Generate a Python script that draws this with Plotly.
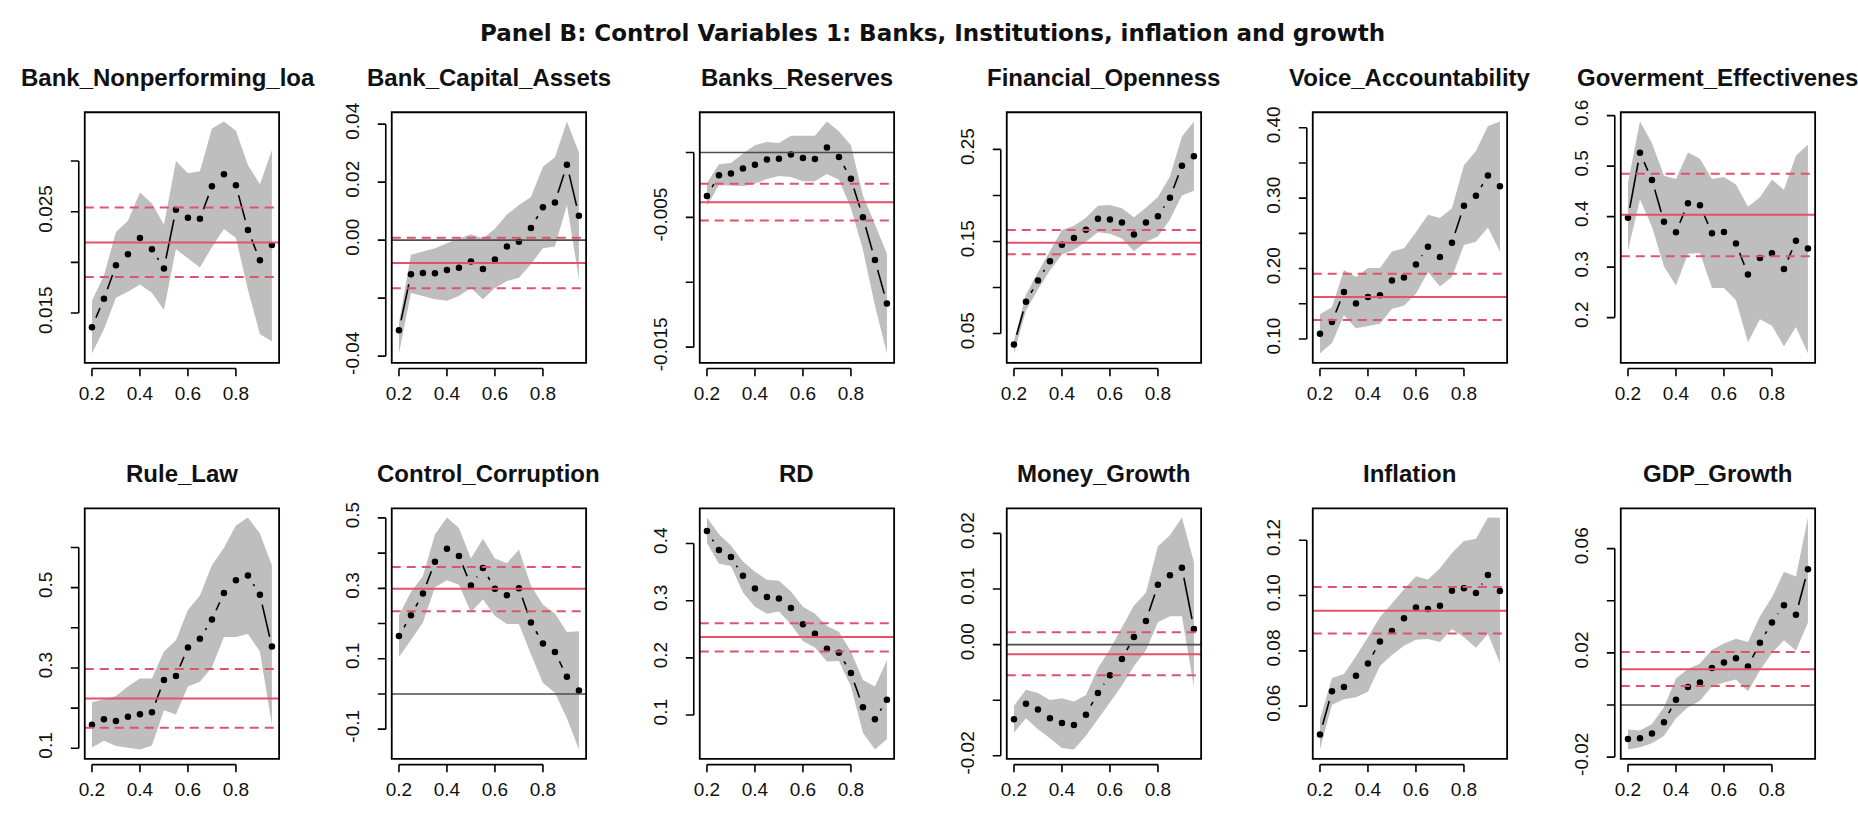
import math
import plotly.graph_objects as go

# Quantile levels shared by every panel
taus = [0.20, 0.25, 0.30, 0.35, 0.40, 0.45, 0.50, 0.55,
        0.60, 0.65, 0.70, 0.75, 0.80, 0.85, 0.90, 0.95]
x_ticks = [0.2, 0.4, 0.6, 0.8]
x_tick_text = ["0.2", "0.4", "0.6", "0.8"]

main_title = "Panel B: Control Variables 1: Banks, Institutions, inflation and growth"

# ---- quantile coefficients, confidence bands and OLS (estimate, lower, upper) ----
npl_coef = [0.0136, 0.0164, 0.0197, 0.0208, 0.0224, 0.0213, 0.0194, 0.0252,
            0.0244, 0.0243, 0.0275, 0.0287, 0.0276, 0.0232, 0.0202, 0.0217]
npl_lo = [0.0110, 0.0134, 0.0165, 0.0171, 0.0178, 0.0170, 0.0153, 0.0213,
          0.0204, 0.0195, 0.0215, 0.0233, 0.0224, 0.0173, 0.0129, 0.0122]
npl_hi = [0.0162, 0.0187, 0.0230, 0.0241, 0.0269, 0.0258, 0.0237, 0.0300,
          0.0288, 0.0290, 0.0332, 0.0339, 0.0330, 0.0296, 0.0277, 0.0311]
npl_ols = [0.02195, 0.01855, 0.02541]
npl_yticks = [0.015, 0.020, 0.025, 0.030]
npl_ylabels = ["0.015", "", "0.025", ""]

cap_coef = [-0.0311, -0.0118, -0.0113, -0.0114, -0.0103, -0.0095, -0.0074, -0.0100,
            -0.0067, -0.0022, -0.0006, 0.0042, 0.0113, 0.0130, 0.0260, 0.0084]
cap_lo = [-0.0391, -0.0182, -0.0193, -0.0204, -0.0209, -0.0193, -0.0165, -0.0204,
          -0.0165, -0.0141, -0.0130, -0.0083, -0.0028, -0.0022, 0.0121, -0.0134]
cap_hi = [-0.0286, -0.0050, -0.0039, -0.0028, -0.0011, 0.0006, 0.0020, 0.0006,
          0.0039, 0.0088, 0.0121, 0.0149, 0.0253, 0.0286, 0.0409, 0.0303]
cap_ols = [-0.0079, -0.0166, 0.0008]
cap_yticks = [-0.04, -0.02, 0.0, 0.02, 0.04]
cap_ylabels = ["-0.04", "", "0.00", "0.02", "0.04"]

res_coef = [-0.00335, -0.00175, -0.00162, -0.00123, -0.00094, -0.00054, -0.00047, -0.00015,
            -0.00042, -0.00049, 0.00039, -0.00034, -0.00202, -0.00499, -0.00829, -0.01163]
res_lo = [-0.00411, -0.00253, -0.00253, -0.00258, -0.00241, -0.00204, -0.00180, -0.00189,
          -0.00221, -0.00221, -0.00165, -0.00209, -0.00430, -0.00750, -0.01181, -0.01549]
res_hi = [-0.00234, -0.00091, -0.00081, -0.00007, 0.00057, 0.00081, 0.00074, 0.00130,
          0.00130, 0.00130, 0.00239, 0.00165, 0.00057, -0.00332, -0.00553, -0.00780]
res_ols = [-0.00384, -0.00524, -0.00241]
res_yticks = [-0.015, -0.010, -0.005, 0.0]
res_ylabels = ["-0.015", "", "-0.005", ""]

fin_coef = [0.0380, 0.0845, 0.1077, 0.1285, 0.1465, 0.1538, 0.1628, 0.1746,
            0.1739, 0.1705, 0.1576, 0.1705, 0.1774, 0.1975, 0.2322, 0.2425]
fin_lo = [0.0283, 0.0751, 0.0977, 0.1185, 0.1358, 0.1410, 0.1497, 0.1601,
          0.1583, 0.1531, 0.1393, 0.1497, 0.1555, 0.1739, 0.1999, 0.2051]
fin_hi = [0.0422, 0.0925, 0.1167, 0.1393, 0.1625, 0.1670, 0.1757, 0.1888,
          0.1895, 0.1860, 0.1763, 0.1867, 0.1982, 0.2207, 0.2640, 0.2803]
fin_ols = [0.1486, 0.1361, 0.1625]
fin_yticks = [0.05, 0.10, 0.15, 0.20, 0.25]
fin_ylabels = ["0.05", "", "0.15", "", "0.25"]

voice_coef = [0.1074, 0.1242, 0.1668, 0.1505, 0.1595, 0.1622, 0.1831, 0.1872,
              0.2057, 0.2311, 0.2162, 0.2366, 0.2891, 0.3032, 0.3322, 0.3168]
voice_lo = [0.0793, 0.0943, 0.1337, 0.1151, 0.1187, 0.1215, 0.1428, 0.1473,
            0.1640, 0.1949, 0.1745, 0.1881, 0.2334, 0.2379, 0.2583, 0.2243]
voice_hi = [0.1350, 0.1450, 0.1980, 0.1881, 0.2008, 0.2008, 0.2243, 0.2289,
            0.2515, 0.2764, 0.2719, 0.2855, 0.3467, 0.3671, 0.4024, 0.4088]
voice_ols = [0.1595, 0.1269, 0.1926]
voice_yticks = [0.10, 0.15, 0.20, 0.25, 0.30, 0.35, 0.40]
voice_ylabels = ["0.10", "", "0.20", "", "0.30", "", "0.40"]

gov_coef = [0.3975, 0.5264, 0.4727, 0.3899, 0.3690, 0.4265, 0.4227, 0.3671,
            0.3697, 0.3469, 0.2856, 0.3179, 0.3273, 0.2964, 0.3520, 0.3368]
gov_lo = [0.3330, 0.4341, 0.3798, 0.3014, 0.2635, 0.3267, 0.3280, 0.2585,
          0.2585, 0.2344, 0.1510, 0.1965, 0.1839, 0.1434, 0.1814, 0.1289]
gov_hi = [0.4670, 0.5883, 0.5460, 0.4809, 0.4746, 0.5270, 0.5144, 0.4746,
          0.4784, 0.4638, 0.4196, 0.4385, 0.4733, 0.4531, 0.5207, 0.5428]
gov_ols = [0.4038, 0.3216, 0.4847]
gov_yticks = [0.2, 0.3, 0.4, 0.5, 0.6]
gov_ylabels = ["0.2", "0.3", "0.4", "0.5", "0.6"]

law_coef = [0.1587, 0.1722, 0.1682, 0.1786, 0.1849, 0.1897, 0.2698, 0.2802,
            0.3508, 0.3730, 0.4206, 0.4865, 0.5183, 0.5302, 0.4825, 0.3532]
law_lo = [0.1016, 0.1190, 0.1055, 0.1016, 0.0968, 0.1071, 0.1944, 0.1841,
          0.2540, 0.2659, 0.3016, 0.3770, 0.3770, 0.3849, 0.3413, 0.1587]
law_hi = [0.2143, 0.2222, 0.2302, 0.2540, 0.2738, 0.2738, 0.3413, 0.3691,
          0.4445, 0.4802, 0.5556, 0.5992, 0.6548, 0.6746, 0.6349, 0.5556]
law_ols = [0.2238, 0.1508, 0.2976]
law_yticks = [0.1, 0.2, 0.3, 0.4, 0.5, 0.6]
law_ylabels = ["0.1", "", "0.3", "", "0.5", ""]

corr_coef = [0.1643, 0.2233, 0.2850, 0.3758, 0.4121, 0.3921, 0.3077, 0.3576,
             0.2986, 0.2805, 0.3004, 0.2033, 0.1434, 0.1189, 0.0490, 0.0100]
corr_lo = [0.1053, 0.1534, 0.2033, 0.3032, 0.3231, 0.3104, 0.2324, 0.2687,
           0.2215, 0.1988, 0.1988, 0.1126, 0.0309, 0.0036, -0.0690, -0.1579]
corr_hi = [0.2233, 0.2896, 0.3349, 0.4529, 0.5010, 0.4711, 0.3849, 0.4411,
           0.3849, 0.3712, 0.4103, 0.3077, 0.2533, 0.2287, 0.1761, 0.1779]
corr_ols = [0.2986, 0.2351, 0.3604]
corr_yticks = [-0.1, 0.0, 0.1, 0.2, 0.3, 0.4, 0.5]
corr_ylabels = ["-0.1", "", "0.1", "", "0.3", "", "0.5"]

rd_coef = [0.4221, 0.3887, 0.3764, 0.3435, 0.3212, 0.3067, 0.3039, 0.2872,
           0.2587, 0.2420, 0.2158, 0.2091, 0.1734, 0.1138, 0.0926, 0.1266]
rd_lo = [0.4009, 0.3647, 0.3608, 0.3145, 0.2894, 0.2771, 0.2810, 0.2587,
         0.2292, 0.2180, 0.1935, 0.1946, 0.1500, 0.0692, 0.0396, 0.0580]
rd_hi = [0.4455, 0.4165, 0.3965, 0.3686, 0.3507, 0.3368, 0.3351, 0.3162,
         0.2894, 0.2771, 0.2559, 0.2459, 0.2113, 0.1612, 0.1500, 0.1957]
rd_ols = [0.2364, 0.2113, 0.2604]
rd_yticks = [0.1, 0.2, 0.3, 0.4]
rd_ylabels = ["0.1", "0.2", "0.3", "0.4"]

money_coef = [-0.01341, -0.01065, -0.01168, -0.01324, -0.01410, -0.01445, -0.01260, -0.00869,
              -0.00552, -0.00259, 0.00138, 0.00426, 0.01076, 0.01249, 0.01381, 0.00282]
money_lo = [-0.01583, -0.01324, -0.01525, -0.01686, -0.01859, -0.01888, -0.01640, -0.01341,
            -0.01042, -0.00737, -0.00391, -0.00104, 0.00403, 0.00512, 0.00512, -0.00765]
money_hi = [-0.01099, -0.00811, -0.00869, -0.00996, -0.00967, -0.01024, -0.00909, -0.00420,
            -0.00086, 0.00299, 0.00702, 0.00932, 0.01767, 0.01968, 0.02285, 0.01479]
money_ols = [-0.00173, -0.00552, 0.00224]
money_yticks = [-0.02, -0.01, 0.0, 0.01, 0.02]
money_ylabels = ["-0.02", "", "0.00", "0.01", "0.02"]

infl_coef = [0.0497, 0.0654, 0.0669, 0.0710, 0.0754, 0.0834, 0.0872, 0.0918,
             0.0957, 0.0951, 0.0963, 0.1017, 0.1026, 0.1009, 0.1074, 0.1016]
infl_lo = [0.0443, 0.0605, 0.0625, 0.0632, 0.0652, 0.0745, 0.0785, 0.0818,
           0.0840, 0.0843, 0.0832, 0.0878, 0.0849, 0.0811, 0.0861, 0.0756]
infl_hi = [0.0553, 0.0702, 0.0716, 0.0780, 0.0849, 0.0922, 0.0971, 0.1023,
           0.1070, 0.1058, 0.1099, 0.1154, 0.1197, 0.1205, 0.1282, 0.1281]
infl_ols = [0.0945, 0.0863, 0.1031]
infl_yticks = [0.06, 0.08, 0.10, 0.12]
infl_ylabels = ["0.06", "0.08", "0.10", "0.12"]

gdp_coef = [-0.0131, -0.0128, -0.0109, -0.0066, 0.0020, 0.0069, 0.0086, 0.0142,
            0.0163, 0.0179, 0.0148, 0.0239, 0.0316, 0.0383, 0.0346, 0.0521]
gdp_lo = [-0.0171, -0.0162, -0.0147, -0.0119, -0.0051, -0.0009, 0.0016, 0.0071,
          0.0086, 0.0098, 0.0053, 0.0132, 0.0199, 0.0248, 0.0208, 0.0316]
gdp_hi = [-0.0094, -0.0098, -0.0073, -0.0009, 0.0102, 0.0138, 0.0159, 0.0212,
          0.0236, 0.0254, 0.0242, 0.0340, 0.0413, 0.0511, 0.0493, 0.0719]
gdp_ols = [0.0137, 0.0073, 0.0203]
gdp_yticks = [-0.02, 0.0, 0.02, 0.04, 0.06]
gdp_ylabels = ["-0.02", "", "0.02", "", "0.06"]

panels = [
    ("Bank_Nonperforming_loa", npl_coef, npl_lo, npl_hi, npl_ols, npl_yticks, npl_ylabels),
    ("Bank_Capital_Assets", cap_coef, cap_lo, cap_hi, cap_ols, cap_yticks, cap_ylabels),
    ("Banks_Reserves", res_coef, res_lo, res_hi, res_ols, res_yticks, res_ylabels),
    ("Financial_Openness", fin_coef, fin_lo, fin_hi, fin_ols, fin_yticks, fin_ylabels),
    ("Voice_Accountability", voice_coef, voice_lo, voice_hi, voice_ols, voice_yticks, voice_ylabels),
    ("Goverment_Effectivenes", gov_coef, gov_lo, gov_hi, gov_ols, gov_yticks, gov_ylabels),
    ("Rule_Law", law_coef, law_lo, law_hi, law_ols, law_yticks, law_ylabels),
    ("Control_Corruption", corr_coef, corr_lo, corr_hi, corr_ols, corr_yticks, corr_ylabels),
    ("RD", rd_coef, rd_lo, rd_hi, rd_ols, rd_yticks, rd_ylabels),
    ("Money_Growth", money_coef, money_lo, money_hi, money_ols, money_yticks, money_ylabels),
    ("Inflation", infl_coef, infl_lo, infl_hi, infl_ols, infl_yticks, infl_ylabels),
    ("GDP_Growth", gdp_coef, gdp_lo, gdp_hi, gdp_ols, gdp_yticks, gdp_ylabels),
]

# ---- page geometry (pixels) ----
W, H = 1858, 824
col_left = [79, 387, 696, 1004, 1311, 1620]
box_w = 195
row_top = [103, 514]
box_h = 260
title_mid = [67, 478]
first_title_shift = -14

BAND = "#BEBEBE"
OLS_RED = "#DF536B"
ZERO = "#4D4D4D"
AXIS_FONT = dict(family="Liberation Sans, Arial, sans-serif", size=19, color="#111111")
TITLE_FONT = dict(family="Liberation Sans, Arial, sans-serif", size=24, color="#111111")

POINT_GAP = 10.5      # gap (px) left around each point on the connecting line
AX_OFF = 6            # axis line offset from the box (px)
TICK_LEN = 8          # tick mark length (px)


def padded(lo, hi, frac=0.04):
    span = hi - lo
    return [lo - frac * span, hi + frac * span]


def gapped_line(x, y, xr, yr, wpx, hpx, gap):
    """Segments joining consecutive points, shortened at both ends like type='b'."""
    sx = wpx / (xr[1] - xr[0])
    sy = hpx / (yr[1] - yr[0])
    xs, ys = [], []
    for i in range(len(x) - 1):
        dx, dy = x[i + 1] - x[i], y[i + 1] - y[i]
        length = math.hypot(dx * sx, dy * sy)
        if length > 2 * gap:
            f0, f1 = gap / length, 1 - gap / length
            xs += [x[i] + dx * f0, x[i] + dx * f1, None]
            ys += [y[i] + dy * f0, y[i] + dy * f1, None]
    return xs, ys


fig = go.Figure()
shapes = []
annotations = []
layout_axes = {}

for k, (name, coef, lo, hi, ols, yticks, ylabels) in enumerate(panels):
    n = k + 1
    r, c = divmod(k, 6)
    xa = "x" if n == 1 else f"x{n}"
    ya = "y" if n == 1 else f"y{n}"
    left, top = col_left[c], row_top[r]

    xr = padded(min(taus), max(taus))
    yr = padded(min(lo), max(hi))

    # confidence band
    fig.add_trace(go.Scatter(
        x=taus + taus[::-1], y=hi + lo[::-1], fill="toself", fillcolor=BAND,
        line=dict(width=0), mode="lines", hoverinfo="skip", showlegend=False,
        xaxis=xa, yaxis=ya))
    # connecting line with gaps around points
    sx, sy = gapped_line(taus, coef, xr, yr, box_w, box_h, POINT_GAP)
    fig.add_trace(go.Scatter(
        x=sx, y=sy, mode="lines", line=dict(color="black", width=1.6),
        hoverinfo="skip", showlegend=False, xaxis=xa, yaxis=ya))
    # quantile estimates
    fig.add_trace(go.Scatter(
        x=taus, y=coef, mode="markers", marker=dict(color="black", size=6.5),
        showlegend=False, xaxis=xa, yaxis=ya))

    # zero reference line
    if yr[0] < 0 < yr[1]:
        shapes.append(dict(type="line", xref=f"{xa} domain", yref=ya, x0=0, x1=1,
                           y0=0, y1=0, line=dict(color=ZERO, width=1.6)))
    # OLS estimate and its confidence interval
    shapes.append(dict(type="line", xref=f"{xa} domain", yref=ya, x0=0, x1=1,
                       y0=ols[0], y1=ols[0], line=dict(color=OLS_RED, width=2)))
    for v in ols[1:]:
        shapes.append(dict(type="line", xref=f"{xa} domain", yref=ya, x0=0, x1=1,
                           y0=v, y1=v, line=dict(color=OLS_RED, width=2, dash="9px,6px")))
    # frame
    shapes.append(dict(type="rect", xref=f"{xa} domain", yref=f"{ya} domain",
                       x0=0, x1=1, y0=0, y1=1, line=dict(color="black", width=1.8)))

    # detached axes: x axis
    oy0 = -AX_OFF / box_h
    oy1 = -(AX_OFF + TICK_LEN) / box_h
    shapes.append(dict(type="line", xref=xa, yref=f"{ya} domain",
                       x0=x_ticks[0], x1=x_ticks[-1], y0=oy0, y1=oy0,
                       line=dict(color="black", width=1.6)))
    for t in x_ticks:
        shapes.append(dict(type="line", xref=xa, yref=f"{ya} domain",
                           x0=t, x1=t, y0=oy0, y1=oy1, line=dict(color="black", width=1.6)))
    # y axis
    ox0 = -AX_OFF / box_w
    ox1 = -(AX_OFF + TICK_LEN) / box_w
    shapes.append(dict(type="line", xref=f"{xa} domain", yref=ya,
                       x0=ox0, x1=ox0, y0=yticks[0], y1=yticks[-1],
                       line=dict(color="black", width=1.6)))
    for t in yticks:
        shapes.append(dict(type="line", xref=f"{xa} domain", yref=ya,
                           x0=ox0, x1=ox1, y0=t, y1=t, line=dict(color="black", width=1.6)))

    key = "" if n == 1 else str(n)
    layout_axes[f"xaxis{key}"] = dict(
        domain=[left / W, (left + box_w) / W], range=xr, anchor=ya,
        showgrid=False, zeroline=False, showline=False,
        tickmode="array", tickvals=x_ticks, ticktext=x_tick_text,
        ticks="outside", ticklen=13, tickcolor="rgba(0,0,0,0)",
        tickfont=AXIS_FONT)
    layout_axes[f"yaxis{key}"] = dict(
        domain=[1 - (top + box_h) / H, 1 - top / H], range=yr, anchor=xa,
        showgrid=False, zeroline=False, showline=False,
        tickmode="array", tickvals=yticks, ticktext=ylabels, tickangle=-90,
        ticks="outside", ticklen=24, tickcolor="rgba(0,0,0,0)",
        tickfont=AXIS_FONT)

    title_x = left + box_w / 2 + (first_title_shift if n == 1 else 0)
    annotations.append(dict(
        text=f"<b>{name}</b>", xref="paper", yref="paper",
        x=title_x / W, y=1 - title_mid[r] / H, xanchor="center", yanchor="middle",
        showarrow=False, font=TITLE_FONT))

annotations.append(dict(
    text=f"<b>{main_title}</b>", xref="paper", yref="paper", x=0.5, y=1 - 21 / H,
    xanchor="center", yanchor="middle", showarrow=False,
    font=dict(family="DejaVu Sans, sans-serif", size=23, color="#111111")))

fig.update_layout(
    width=W, height=H, margin=dict(l=0, r=0, t=0, b=0),
    paper_bgcolor="white", plot_bgcolor="white",
    showlegend=False, shapes=shapes, annotations=annotations,
    **layout_axes)

fig.write_html("out.html")
